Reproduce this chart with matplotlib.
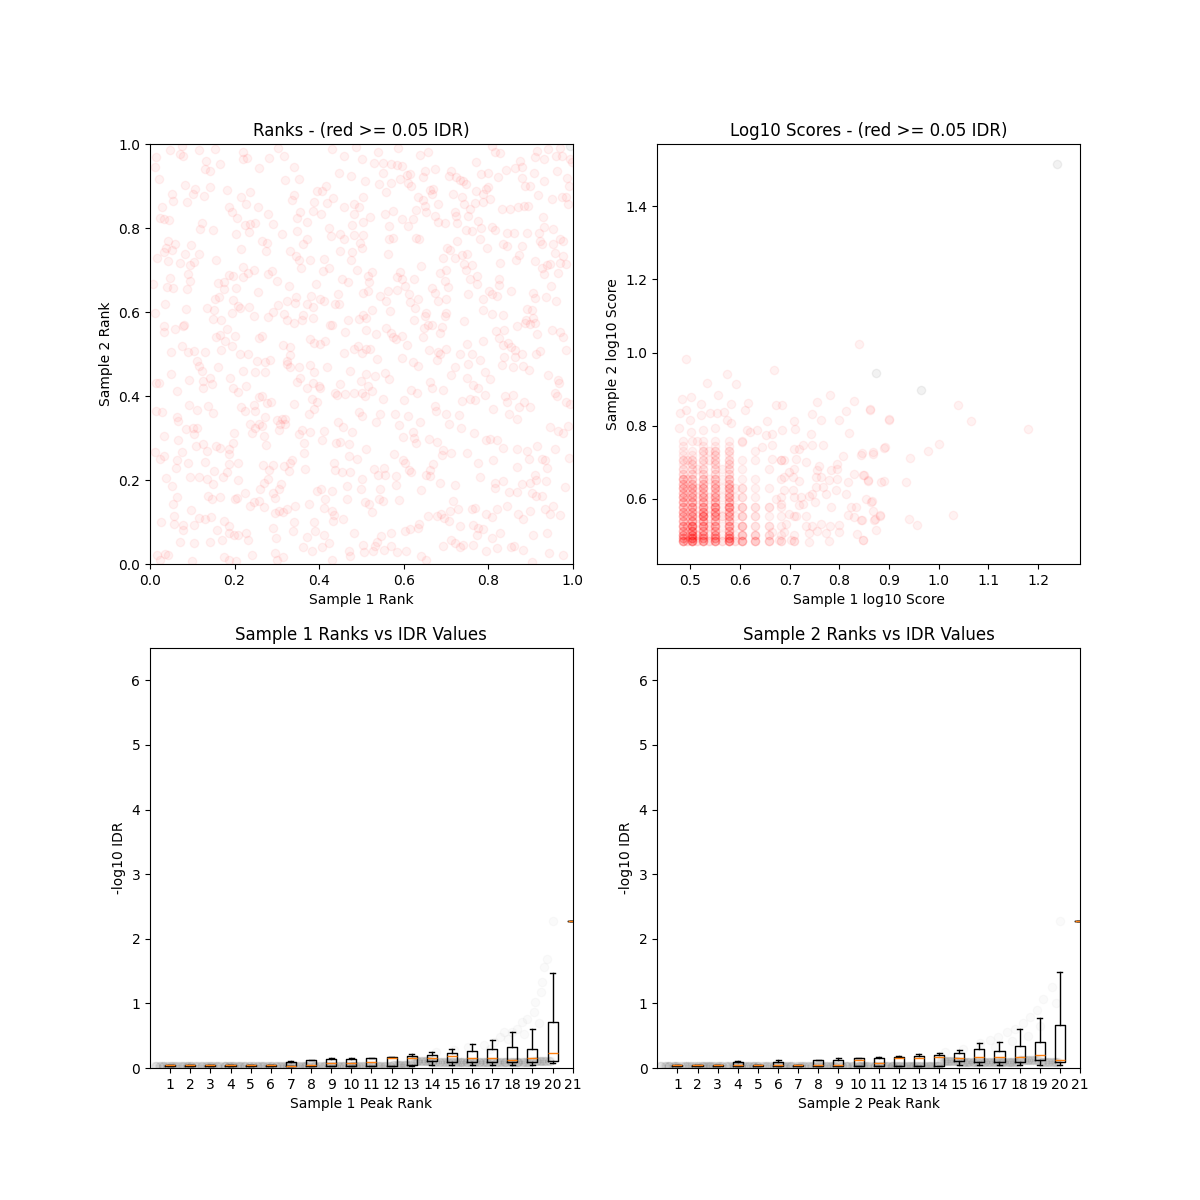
import numpy as np
import matplotlib
matplotlib.use("Agg")
import matplotlib.pyplot as plt

IDR_CUT = 0.05

## RANKS PANEL - (sample 1 rank, sample 2 rank)
ranks_upper_left = [
    (0.047, 0.986), (0.075, 0.996), (0.115, 0.986), (0.154, 0.987), (0.221, 0.981), (0.221, 0.964),
    (0.229, 0.966), (0.070, 0.976), (0.079, 0.972), (0.014, 0.968), (0.012, 0.946), (0.133, 0.960),
    (0.130, 0.940), (0.142, 0.936), (0.166, 0.952), (0.022, 0.916), (0.083, 0.903), (0.107, 0.894),
    (0.101, 0.882), (0.128, 0.877), (0.141, 0.897), (0.182, 0.891), (0.051, 0.881), (0.055, 0.865),
    (0.088, 0.862), (0.215, 0.875), (0.237, 0.886), (0.227, 0.857), (0.255, 0.851), (0.028, 0.850),
    (0.024, 0.823), (0.033, 0.821), (0.045, 0.819), (0.188, 0.849), (0.194, 0.837), (0.205, 0.825),
    (0.122, 0.811), (0.119, 0.797), (0.148, 0.796), (0.203, 0.785), (0.224, 0.806), (0.235, 0.791),
    (0.237, 0.809), (0.249, 0.811), (0.280, 0.833), (0.290, 0.809), (0.312, 0.785), (0.258, 0.944),
    (0.282, 0.966), (0.316, 0.971), (0.302, 0.990), (0.340, 0.946), (0.320, 0.914), (0.353, 0.916),
    (0.341, 0.878), (0.336, 0.866), (0.356, 0.838), (0.348, 0.825), (0.371, 0.815), (0.387, 0.861),
    (0.395, 0.887), (0.407, 0.889), (0.417, 0.900), (0.433, 0.871), (0.419, 0.859), (0.386, 0.841),
    (0.404, 0.834), (0.448, 0.931), (0.476, 0.923), (0.502, 0.964), (0.460, 0.971), (0.430, 0.988),
    (0.488, 0.992), (0.458, 0.851), (0.482, 0.857), (0.483, 0.833), (0.494, 0.849), (0.503, 0.873),
    (0.503, 0.815), (0.478, 0.807), (0.423, 0.801), (0.427, 0.781), (0.450, 0.785), (0.458, 0.773),
    (0.483, 0.783), (0.496, 0.765), (0.502, 0.753), (0.450, 0.745), (0.479, 0.744), (0.476, 0.725),
    (0.411, 0.727), (0.409, 0.698), (0.423, 0.704), (0.490, 0.699), (0.454, 0.679), (0.469, 0.672),
    (0.503, 0.646), (0.445, 0.643), (0.446, 0.620), (0.438, 0.618), (0.411, 0.626), (0.401, 0.630),
    (0.381, 0.638), (0.371, 0.620), (0.386, 0.612), (0.344, 0.622), (0.346, 0.635), (0.325, 0.626),
    (0.328, 0.662), (0.393, 0.667), (0.379, 0.723), (0.357, 0.705), (0.352, 0.725), (0.345, 0.733),
    (0.330, 0.745), (0.371, 0.774), (0.363, 0.761), (0.348, 0.792), (0.266, 0.769), (0.277, 0.764),
    (0.275, 0.745), (0.216, 0.751), (0.156, 0.725), (0.097, 0.760), (0.115, 0.739), (0.083, 0.737),
    (0.071, 0.716), (0.105, 0.720), (0.095, 0.712), (0.091, 0.690), (0.095, 0.675), (0.088, 0.654),
    (0.047, 0.680), (0.041, 0.659), (0.054, 0.656), (0.043, 0.768), (0.037, 0.753), (0.059, 0.761),
    (0.052, 0.747), (0.032, 0.744), (0.017, 0.729), (0.043, 0.721), (0.006, 0.666), (0.036, 0.618),
    (0.012, 0.598), (0.085, 0.608), (0.136, 0.610), (0.154, 0.631), (0.164, 0.635), (0.196, 0.628),
    (0.209, 0.614), (0.234, 0.613), (0.213, 0.610), (0.152, 0.604), (0.150, 0.584), (0.167, 0.582),
    (0.183, 0.560), (0.166, 0.545), (0.156, 0.540), (0.178, 0.530), (0.194, 0.518), (0.201, 0.542),
    (0.265, 0.542), (0.259, 0.538), (0.245, 0.590), (0.278, 0.588), (0.291, 0.600), (0.302, 0.616),
    (0.318, 0.596), (0.324, 0.582), (0.359, 0.582), (0.363, 0.592), (0.340, 0.573), (0.386, 0.586),
    (0.430, 0.568), (0.425, 0.570), (0.468, 0.580), (0.494, 0.584), (0.462, 0.553), (0.503, 0.592),
    (0.379, 0.535), (0.387, 0.526), (0.415, 0.532), (0.403, 0.524), (0.458, 0.502), (0.483, 0.513),
    (0.491, 0.518), (0.502, 0.503), (0.314, 0.521), (0.332, 0.517), (0.332, 0.497), (0.075, 0.518),
    (0.049, 0.505), (0.091, 0.505), (0.103, 0.508), (0.130, 0.504), (0.167, 0.509), (0.213, 0.501),
    (0.233, 0.500), (0.032, 0.566), (0.032, 0.552), (0.059, 0.560), (0.079, 0.566), (0.081, 0.570),
    (0.162, 0.670), (0.175, 0.672), (0.174, 0.654), (0.187, 0.687), (0.197, 0.686), (0.220, 0.706),
    (0.219, 0.683), (0.231, 0.694), (0.246, 0.699), (0.280, 0.691), (0.288, 0.698), (0.300, 0.674),
    (0.204, 0.656), (0.255, 0.648), (0.195, 0.598),
]

ranks_upper_right = [
    (0.539, 0.980), (0.587, 0.990), (0.658, 0.982), (0.638, 0.974), (0.808, 0.996), (0.816, 0.980),
    (0.829, 0.979), (0.915, 0.984), (0.942, 0.988), (0.970, 0.990), (0.529, 0.955), (0.550, 0.955),
    (0.569, 0.952), (0.584, 0.951), (0.595, 0.948), (0.551, 0.932), (0.508, 0.911), (0.542, 0.904),
    (0.571, 0.906), (0.591, 0.916), (0.607, 0.927), (0.616, 0.928), (0.645, 0.922), (0.650, 0.936),
    (0.674, 0.940), (0.611, 0.908), (0.618, 0.900), (0.559, 0.885), (0.634, 0.875), (0.646, 0.866),
    (0.662, 0.890), (0.670, 0.893), (0.666, 0.881), (0.682, 0.857), (0.650, 0.853), (0.654, 0.837),
    (0.713, 0.936), (0.708, 0.924), (0.725, 0.922), (0.733, 0.914), (0.741, 0.911), (0.747, 0.904),
    (0.717, 0.882), (0.737, 0.873), (0.771, 0.956), (0.782, 0.928), (0.800, 0.932), (0.824, 0.922),
    (0.841, 0.938), (0.863, 0.943), (0.875, 0.959), (0.879, 0.946), (0.911, 0.968), (0.931, 0.964),
    (0.961, 0.972), (0.974, 0.972), (0.994, 0.964), (0.998, 0.956), (0.962, 0.936), (0.908, 0.932),
    (0.879, 0.920), (0.887, 0.900), (0.900, 0.900), (0.932, 0.912), (0.986, 0.920), (0.992, 0.900),
    (0.800, 0.898), (0.795, 0.893), (0.771, 0.889), (0.788, 0.881), (0.787, 0.862), (0.804, 0.869),
    (0.769, 0.859), (0.757, 0.846), (0.742, 0.857), (0.832, 0.845), (0.852, 0.845), (0.871, 0.849),
    (0.885, 0.853), (0.895, 0.853), (0.919, 0.879), (0.950, 0.869), (0.974, 0.873), (0.983, 0.874),
    (0.990, 0.858), (0.521, 0.826), (0.555, 0.833), (0.575, 0.841), (0.597, 0.821), (0.611, 0.805),
    (0.622, 0.821), (0.566, 0.805), (0.630, 0.842), (0.675, 0.829), (0.682, 0.815), (0.697, 0.813),
    (0.721, 0.837), (0.725, 0.829), (0.727, 0.813), (0.753, 0.829), (0.776, 0.817), (0.784, 0.799),
    (0.747, 0.795), (0.761, 0.793), (0.808, 0.803), (0.816, 0.795), (0.929, 0.826), (0.931, 0.803),
    (0.953, 0.797), (0.893, 0.789), (0.920, 0.787), (0.923, 0.769), (0.927, 0.761), (0.844, 0.789),
    (0.861, 0.787), (0.505, 0.783), (0.566, 0.775), (0.575, 0.777), (0.630, 0.777), (0.637, 0.775),
    (0.727, 0.768), (0.780, 0.773), (0.798, 0.752), (0.836, 0.763), (0.844, 0.757), (0.881, 0.757),
    (0.874, 0.736), (0.865, 0.725), (0.953, 0.761), (0.970, 0.773), (0.978, 0.769), (0.958, 0.741),
    (0.978, 0.733), (0.911, 0.721), (0.938, 0.713), (0.946, 0.715), (0.970, 0.717), (0.984, 0.715),
    (0.927, 0.704), (0.933, 0.690), (0.966, 0.694), (0.562, 0.739), (0.642, 0.709), (0.692, 0.729),
    (0.703, 0.752), (0.709, 0.747), (0.721, 0.729), (0.737, 0.735), (0.750, 0.737), (0.743, 0.715),
    (0.762, 0.712), (0.747, 0.701), (0.828, 0.717), (0.516, 0.686), (0.526, 0.696), (0.518, 0.672),
    (0.592, 0.695), (0.597, 0.678), (0.584, 0.683), (0.624, 0.678), (0.603, 0.662), (0.613, 0.643),
    (0.516, 0.650), (0.545, 0.638), (0.563, 0.651), (0.584, 0.652), (0.559, 0.626), (0.615, 0.624),
    (0.634, 0.632), (0.626, 0.610), (0.567, 0.602), (0.524, 0.604), (0.512, 0.586), (0.686, 0.694),
    (0.701, 0.701), (0.697, 0.674), (0.705, 0.659), (0.666, 0.656), (0.674, 0.646), (0.682, 0.626),
    (0.701, 0.630), (0.757, 0.678), (0.773, 0.686), (0.773, 0.667), (0.753, 0.642), (0.803, 0.650),
    (0.826, 0.678), (0.826, 0.664), (0.810, 0.643), (0.820, 0.638), (0.787, 0.632), (0.853, 0.650),
    (0.907, 0.646), (0.911, 0.634), (0.937, 0.635), (0.961, 0.627), (0.949, 0.662), (0.891, 0.606),
    (0.903, 0.604), (0.788, 0.604), (0.808, 0.596), (0.836, 0.594), (0.889, 0.582), (0.907, 0.586),
    (0.887, 0.574), (0.867, 0.566), (0.899, 0.572), (0.911, 0.574), (0.701, 0.598), (0.697, 0.590),
    (0.654, 0.598), (0.650, 0.590), (0.658, 0.570), (0.666, 0.569), (0.648, 0.561), (0.624, 0.582),
    (0.742, 0.578), (0.558, 0.562), (0.512, 0.558), (0.534, 0.548), (0.571, 0.550), (0.575, 0.540),
    (0.595, 0.542), (0.581, 0.536), (0.646, 0.540), (0.686, 0.550), (0.690, 0.564), (0.607, 0.522),
    (0.512, 0.512), (0.520, 0.513), (0.660, 0.510), (0.682, 0.504), (0.700, 0.513), (0.686, 0.499),
    (0.733, 0.500), (0.761, 0.499), (0.751, 0.524), (0.788, 0.530), (0.818, 0.554), (0.837, 0.556),
    (0.826, 0.538), (0.834, 0.522), (0.848, 0.526), (0.853, 0.516), (0.863, 0.510), (0.879, 0.500),
    (0.913, 0.499), (0.923, 0.506), (0.950, 0.558), (0.970, 0.552), (0.978, 0.540), (0.916, 0.548),
    (0.984, 0.509),
]

ranks_lower_left = [
    (0.049, 0.452), (0.014, 0.432), (0.022, 0.431), (0.065, 0.412), (0.093, 0.439), (0.112, 0.484),
    (0.117, 0.472), (0.122, 0.460), (0.126, 0.436), (0.125, 0.418), (0.142, 0.444), (0.146, 0.428),
    (0.162, 0.468), (0.190, 0.442), (0.196, 0.418), (0.207, 0.410), (0.221, 0.460), (0.227, 0.424),
    (0.249, 0.458), (0.253, 0.484), (0.273, 0.482), (0.284, 0.486), (0.273, 0.458), (0.324, 0.484),
    (0.325, 0.476), (0.332, 0.468), (0.352, 0.468), (0.354, 0.442), (0.348, 0.434), (0.378, 0.474),
    (0.389, 0.458), (0.371, 0.420), (0.386, 0.431), (0.399, 0.424), (0.419, 0.468), (0.438, 0.407),
    (0.450, 0.428), (0.462, 0.405), (0.472, 0.460), (0.482, 0.407), (0.498, 0.436), (0.502, 0.407),
    (0.014, 0.365), (0.028, 0.361), (0.063, 0.349), (0.067, 0.341), (0.093, 0.378), (0.111, 0.367),
    (0.138, 0.377), (0.150, 0.359), (0.085, 0.321), (0.101, 0.325), (0.111, 0.323), (0.103, 0.309),
    (0.033, 0.305), (0.067, 0.295), (0.012, 0.267), (0.024, 0.251), (0.032, 0.257), (0.063, 0.248),
    (0.075, 0.267), (0.062, 0.229), (0.109, 0.280), (0.126, 0.285), (0.136, 0.269), (0.156, 0.281),
    (0.166, 0.277), (0.196, 0.289), (0.198, 0.311), (0.187, 0.261), (0.186, 0.237), (0.209, 0.241),
    (0.129, 0.243), (0.152, 0.221), (0.117, 0.208), (0.134, 0.202), (0.149, 0.190), (0.172, 0.208),
    (0.183, 0.219), (0.038, 0.205), (0.051, 0.186), (0.065, 0.160), (0.054, 0.142), (0.096, 0.128),
    (0.025, 0.100), (0.057, 0.114), (0.057, 0.096), (0.077, 0.094), (0.079, 0.081), (0.103, 0.092),
    (0.117, 0.110), (0.130, 0.106), (0.144, 0.111), (0.175, 0.102), (0.188, 0.090), (0.186, 0.074),
    (0.198, 0.070), (0.209, 0.070), (0.228, 0.074), (0.233, 0.058), (0.170, 0.058), (0.158, 0.082),
    (0.141, 0.052), (0.103, 0.049), (0.070, 0.053), (0.016, 0.022), (0.036, 0.025), (0.043, 0.022),
    (0.024, 0.009), (0.099, 0.007), (0.175, 0.017), (0.186, 0.010), (0.204, 0.007), (0.241, 0.022),
    (0.296, 0.026), (0.300, 0.010), (0.314, 0.016), (0.361, 0.040), (0.383, 0.030), (0.431, 0.010),
    (0.470, 0.030), (0.474, 0.018), (0.506, 0.029), (0.483, 0.073), (0.457, 0.108), (0.435, 0.116),
    (0.433, 0.102), (0.411, 0.070), (0.423, 0.050), (0.407, 0.041), (0.391, 0.078), (0.387, 0.100),
    (0.371, 0.064), (0.338, 0.078), (0.340, 0.100), (0.299, 0.062), (0.291, 0.086), (0.314, 0.124),
    (0.324, 0.130), (0.304, 0.126), (0.296, 0.122), (0.344, 0.138), (0.375, 0.144), (0.395, 0.174),
    (0.404, 0.179), (0.415, 0.154), (0.411, 0.134), (0.431, 0.174), (0.431, 0.126), (0.466, 0.186),
    (0.466, 0.155), (0.498, 0.178), (0.502, 0.202), (0.474, 0.219), (0.454, 0.219), (0.438, 0.224),
    (0.435, 0.240), (0.490, 0.251), (0.470, 0.257), (0.510, 0.273), (0.449, 0.291), (0.470, 0.285),
    (0.441, 0.289), (0.407, 0.295), (0.478, 0.315), (0.457, 0.327), (0.445, 0.337), (0.502, 0.353),
    (0.494, 0.361), (0.378, 0.315), (0.365, 0.289), (0.359, 0.319), (0.352, 0.309), (0.365, 0.264),
    (0.367, 0.227), (0.332, 0.241), (0.336, 0.248), (0.328, 0.221), (0.316, 0.233), (0.292, 0.235),
    (0.282, 0.224), (0.267, 0.235), (0.280, 0.203), (0.261, 0.179), (0.269, 0.194), (0.310, 0.190),
    (0.304, 0.178), (0.292, 0.170), (0.296, 0.158), (0.246, 0.147), (0.237, 0.139), (0.257, 0.150),
    (0.270, 0.136), (0.224, 0.170), (0.201, 0.154), (0.205, 0.158), (0.166, 0.160), (0.146, 0.154),
    (0.138, 0.162), (0.241, 0.313), (0.249, 0.325), (0.257, 0.333), (0.265, 0.329), (0.273, 0.349),
    (0.245, 0.378), (0.257, 0.397), (0.265, 0.399), (0.277, 0.383), (0.286, 0.385), (0.249, 0.365),
    (0.215, 0.375), (0.224, 0.365), (0.237, 0.333), (0.269, 0.305), (0.275, 0.283), (0.304, 0.319),
    (0.308, 0.333), (0.312, 0.346), (0.320, 0.346), (0.300, 0.343), (0.320, 0.333), (0.403, 0.418),
    (0.442, 0.402), (0.411, 0.317), (0.340, 0.381), (0.375, 0.358), (0.387, 0.369), (0.395, 0.385),
    (0.383, 0.393), (0.091, 0.241), (0.095, 0.208), (0.209, 0.199), (0.186, 0.273),
]

ranks_lower_right = [
    (0.537, 0.488), (0.597, 0.490), (0.622, 0.480), (0.634, 0.471), (0.679, 0.486), (0.721, 0.468),
    (0.713, 0.450), (0.749, 0.442), (0.753, 0.476), (0.780, 0.486), (0.792, 0.456), (0.804, 0.440),
    (0.837, 0.492), (0.863, 0.492), (0.832, 0.474), (0.858, 0.468), (0.883, 0.471), (0.897, 0.463),
    (0.942, 0.450), (0.966, 0.439), (0.968, 0.431), (0.512, 0.452), (0.532, 0.448), (0.555, 0.455),
    (0.566, 0.440), (0.516, 0.423), (0.526, 0.412), (0.508, 0.399), (0.551, 0.394), (0.600, 0.391),
    (0.618, 0.415), (0.632, 0.408), (0.662, 0.434), (0.666, 0.418), (0.694, 0.415), (0.765, 0.426),
    (0.776, 0.418), (0.792, 0.402), (0.739, 0.389), (0.757, 0.394), (0.769, 0.391), (0.812, 0.370),
    (0.840, 0.399), (0.859, 0.402), (0.845, 0.385), (0.850, 0.357), (0.867, 0.346), (0.874, 0.373),
    (0.885, 0.386), (0.899, 0.375), (0.958, 0.408), (0.962, 0.401), (0.984, 0.386), (0.994, 0.381),
    (0.545, 0.358), (0.534, 0.338), (0.579, 0.357), (0.589, 0.331), (0.611, 0.353), (0.638, 0.337),
    (0.674, 0.377), (0.676, 0.365), (0.700, 0.357), (0.708, 0.333), (0.731, 0.354), (0.735, 0.325),
    (0.766, 0.313), (0.796, 0.295), (0.804, 0.297), (0.821, 0.295), (0.834, 0.277), (0.867, 0.273),
    (0.891, 0.269), (0.897, 0.249), (0.915, 0.280), (0.927, 0.251), (0.934, 0.248), (0.958, 0.273),
    (0.946, 0.327), (0.966, 0.317), (0.978, 0.311), (0.990, 0.329), (0.992, 0.253), (0.599, 0.303),
    (0.621, 0.315), (0.624, 0.301), (0.629, 0.289), (0.660, 0.297), (0.678, 0.291), (0.694, 0.272),
    (0.690, 0.259), (0.711, 0.265), (0.749, 0.264), (0.776, 0.240), (0.812, 0.248), (0.577, 0.263),
    (0.599, 0.248), (0.603, 0.240), (0.613, 0.225), (0.618, 0.219), (0.670, 0.237), (0.662, 0.225),
    (0.654, 0.213), (0.663, 0.209), (0.686, 0.192), (0.721, 0.187), (0.642, 0.176), (0.529, 0.227),
    (0.553, 0.229), (0.539, 0.213), (0.555, 0.213), (0.581, 0.209), (0.581, 0.187), (0.545, 0.178),
    (0.542, 0.155), (0.550, 0.150), (0.508, 0.147), (0.518, 0.144), (0.524, 0.124), (0.589, 0.152),
    (0.780, 0.206), (0.816, 0.194), (0.816, 0.182), (0.834, 0.198), (0.850, 0.171), (0.869, 0.171),
    (0.881, 0.190), (0.899, 0.194), (0.913, 0.200), (0.936, 0.198), (0.903, 0.170), (0.913, 0.162),
    (0.927, 0.163), (0.911, 0.213), (0.940, 0.229), (0.869, 0.232), (0.982, 0.184), (0.717, 0.150),
    (0.729, 0.131), (0.709, 0.126), (0.688, 0.118), (0.679, 0.114), (0.695, 0.110), (0.708, 0.102),
    (0.658, 0.114), (0.733, 0.090), (0.761, 0.131), (0.769, 0.134), (0.795, 0.118), (0.810, 0.112),
    (0.820, 0.131), (0.845, 0.139), (0.871, 0.120), (0.882, 0.106), (0.899, 0.126), (0.934, 0.130),
    (0.946, 0.118), (0.954, 0.139), (0.970, 0.116), (0.765, 0.094), (0.776, 0.086), (0.788, 0.084),
    (0.774, 0.070), (0.808, 0.062), (0.829, 0.073), (0.637, 0.096), (0.634, 0.086), (0.615, 0.084),
    (0.603, 0.078), (0.569, 0.074), (0.547, 0.066), (0.536, 0.052), (0.532, 0.042), (0.504, 0.046),
    (0.528, 0.030), (0.553, 0.034), (0.571, 0.044), (0.584, 0.028), (0.605, 0.030), (0.642, 0.020),
    (0.654, 0.009), (0.692, 0.044), (0.713, 0.058), (0.721, 0.050), (0.733, 0.041), (0.741, 0.046),
    (0.765, 0.046), (0.795, 0.030), (0.820, 0.038), (0.855, 0.041), (0.861, 0.044), (0.882, 0.034),
    (0.905, 0.068), (0.938, 0.073), (0.945, 0.026), (0.976, 0.022), (0.903, 0.004),
]

ranks_sig = [(0.994, 0.995)]          # the one peak below the IDR cut (grey)

## LOG10 SCORES PANEL
# the bulk sits on discrete scores; left block is packed, right block is sparser
left_cols = [0.485, 0.503, 0.525, 0.550, 0.578]
left_rows = [0.486, 0.494, 0.501, 0.513, 0.526, 0.539, 0.552, 0.565, 0.579, 0.592, 0.605, 0.617,
             0.630, 0.642, 0.655, 0.668, 0.681, 0.694, 0.707, 0.720, 0.732, 0.745, 0.757]
left_counts = [
    [6, 8, 6, 6, 7], [4, 6, 4, 4, 5], [5, 7, 5, 5, 5], [4, 6, 4, 4, 4], [5, 8, 6, 5, 5],
    [4, 5, 5, 4, 4], [4, 5, 7, 5, 4], [4, 4, 5, 5, 4], [4, 5, 5, 6, 6], [4, 4, 4, 4, 4],
    [4, 4, 4, 4, 4], [3, 3, 3, 3, 3], [4, 4, 4, 4, 4], [3, 3, 3, 3, 3], [4, 3, 3, 3, 3],
    [2, 2, 2, 2, 2], [2, 2, 2, 2, 2], [1, 2, 1, 2, 2], [2, 2, 2, 2, 2], [1, 1, 1, 2, 1],
    [1, 1, 2, 2, 2], [1, 0, 1, 1, 1], [1, 1, 1, 1, 1],
]
# scores that fall between the main columns
mid_cols = [0.494, 0.514, 0.537, 0.564, 0.591]
mid_rows = [0.486, 0.501, 0.526, 0.552, 0.579, 0.605, 0.630, 0.655, 0.681, 0.707, 0.732, 0.757]
mid_counts = [
    [2, 2, 2, 2, 2], [1, 2, 1, 1, 1], [2, 1, 2, 1, 1], [1, 1, 1, 2, 1],
    [1, 1, 1, 1, 1], [1, 1, 1, 1, 1], [1, 1, 0, 1, 1], [1, 0, 1, 1, 0],
    [0, 1, 0, 1, 0], [1, 0, 1, 0, 0], [0, 0, 1, 0, 0], [0, 1, 0, 0, 0],
]
right_cols = [0.605, 0.630, 0.658, 0.683, 0.709]
right_rows = [0.486, 0.501, 0.526, 0.552, 0.579, 0.605, 0.630, 0.655, 0.681, 0.707, 0.732, 0.757]
right_counts = [
    [5, 4, 3, 2, 2], [4, 3, 2, 1, 1], [4, 2, 2, 1, 0], [3, 2, 1, 1, 1],
    [3, 2, 2, 1, 0], [2, 1, 0, 1, 1], [2, 1, 1, 0, 0], [1, 1, 0, 1, 0],
    [1, 0, 1, 0, 1], [1, 1, 0, 1, 0], [0, 1, 0, 0, 0], [1, 0, 0, 0, 0],
]
# scattered peaks outside the dense block
score_sparse = [
    (0.491, 0.982), (0.534, 0.917), (0.592, 0.915), (0.574, 0.942), (0.669, 0.952), (0.839, 1.022),
    (0.484, 0.872), (0.502, 0.879), (0.555, 0.883), (0.522, 0.858), (0.480, 0.835), (0.491, 0.844),
    (0.500, 0.815), (0.522, 0.828), (0.540, 0.835), (0.554, 0.835), (0.568, 0.837), (0.583, 0.858),
    (0.574, 0.816), (0.582, 0.807), (0.611, 0.842), (0.617, 0.862), (0.672, 0.856), (0.684, 0.856),
    (0.655, 0.813), (0.664, 0.776), (0.709, 0.813), (0.711, 0.792), (0.745, 0.831), (0.755, 0.865),
    (0.763, 0.816), (0.781, 0.885), (0.799, 0.816), (0.814, 0.840), (0.829, 0.868), (0.861, 0.842),
    (0.900, 0.816), (0.478, 0.795), (0.502, 0.783), (0.526, 0.787), (0.549, 0.795), (0.743, 0.778),
    (0.819, 0.780), (0.807, 0.716), (0.795, 0.696), (0.844, 0.721), (0.868, 0.723), (0.889, 0.740),
    (0.830, 0.667), (0.850, 0.664), (0.857, 0.650), (0.884, 0.646), (0.817, 0.646), (0.814, 0.614),
    (0.854, 0.600), (0.864, 0.591), (0.868, 0.566), (0.881, 0.554), (0.870, 0.541), (0.844, 0.542),
    (0.834, 0.577), (0.817, 0.557), (0.830, 0.550), (0.824, 0.577), (0.847, 0.488), (0.835, 0.504),
    (0.799, 0.529), (0.799, 0.509), (0.781, 0.527), (0.780, 0.484), (0.773, 0.507), (0.763, 0.532),
    (0.756, 0.513), (0.746, 0.527), (0.739, 0.507), (0.739, 0.481), (0.732, 0.527), (0.723, 0.605),
    (0.727, 0.586), (0.739, 0.609), (0.752, 0.591), (0.732, 0.554), (0.712, 0.554), (0.719, 0.584),
    (0.756, 0.678), (0.760, 0.691), (0.763, 0.659), (0.780, 0.652), (0.783, 0.678), (0.795, 0.682),
    (0.795, 0.655), (0.794, 0.623), (0.773, 0.614), (0.783, 0.577), (0.753, 0.659), (0.733, 0.700),
    (0.712, 0.710), (0.719, 0.737), (0.727, 0.746), (0.746, 0.746), (0.768, 0.746), (0.768, 0.632),
    (0.753, 0.632), (0.746, 0.614), (0.706, 0.659), (0.699, 0.673), (0.689, 0.659), (0.719, 0.650),
    (0.706, 0.623), (0.689, 0.625), (0.699, 0.559), (0.692, 0.532), (0.702, 0.488), (0.679, 0.488),
    (0.689, 0.509), (0.665, 0.509), (0.682, 0.586), (0.672, 0.600), (0.689, 0.705), (0.682, 0.705),
    (0.665, 0.710), (0.709, 0.737), (0.685, 0.787), (0.665, 0.746), (0.652, 0.774), (0.645, 0.742),
    (0.635, 0.787), (0.621, 0.784), (0.615, 0.787), (0.605, 0.755),
    (0.861, 0.846), (0.901, 0.818), (1.039, 0.857), (1.066, 0.814), (1.180, 0.792), (0.846, 0.725),
    (0.868, 0.727), (0.891, 0.742), (0.942, 0.713), (0.979, 0.730), (1.001, 0.750), (0.848, 0.666),
    (0.858, 0.652), (0.889, 0.648), (0.934, 0.645), (0.866, 0.595), (0.871, 0.544), (0.881, 0.556),
    (0.845, 0.541), (0.873, 0.515), (0.848, 0.488), (0.940, 0.545), (0.956, 0.529), (1.028, 0.556),
]
scores_sig = [(0.8745, 0.944), (0.9638, 0.897), (1.238, 1.514)]

## RANK BINS vs -log10 IDR (box statistics, bins 1..21)
s1_med = [0.04, 0.04, 0.04, 0.04, 0.04, 0.04, 0.036, 0.04, 0.07, 0.07, 0.10, 0.15, 0.16, 0.15, 0.18, 0.15, 0.15, 0.13, 0.15, 0.226, 2.28]
s1_q1 = [0.035, 0.035, 0.035, 0.035, 0.035, 0.035, 0.036, 0.036, 0.036, 0.036, 0.036, 0.036, 0.04, 0.11, 0.10, 0.10, 0.10, 0.10, 0.09, 0.107, 2.28]
s1_q3 = [0.045, 0.045, 0.045, 0.045, 0.045, 0.045, 0.10, 0.12, 0.14, 0.14, 0.15, 0.17, 0.18, 0.195, 0.235, 0.27, 0.29, 0.33, 0.30, 0.71, 2.28]
s1_lo = [0.03, 0.03, 0.03, 0.03, 0.03, 0.03, 0.03, 0.03, 0.03, 0.03, 0.03, 0.03, 0.035, 0.04, 0.04, 0.04, 0.046, 0.046, 0.046, 0.08, 2.28]
s1_hi = [0.05, 0.05, 0.05, 0.05, 0.05, 0.05, 0.11, 0.125, 0.15, 0.15, 0.16, 0.175, 0.215, 0.24, 0.29, 0.37, 0.44, 0.56, 0.61, 1.47, 2.28]

s2_med = [0.04, 0.04, 0.04, 0.04, 0.04, 0.04, 0.04, 0.04, 0.04, 0.12, 0.07, 0.155, 0.155, 0.175, 0.15, 0.165, 0.17, 0.17, 0.20, 0.12, 2.28]
s2_q1 = [0.035, 0.035, 0.035, 0.036, 0.035, 0.036, 0.035, 0.036, 0.036, 0.036, 0.036, 0.036, 0.036, 0.036, 0.11, 0.10, 0.10, 0.10, 0.12, 0.09, 2.28]
s2_q3 = [0.045, 0.045, 0.045, 0.10, 0.045, 0.09, 0.045, 0.12, 0.12, 0.16, 0.155, 0.17, 0.19, 0.195, 0.225, 0.29, 0.26, 0.34, 0.395, 0.67, 2.28]
s2_lo = [0.03, 0.03, 0.03, 0.03, 0.03, 0.03, 0.03, 0.03, 0.03, 0.03, 0.03, 0.03, 0.03, 0.03, 0.04, 0.04, 0.04, 0.04, 0.04, 0.05, 2.28]
s2_hi = [0.05, 0.05, 0.05, 0.11, 0.05, 0.12, 0.05, 0.13, 0.15, 0.16, 0.165, 0.18, 0.22, 0.23, 0.28, 0.38, 0.41, 0.60, 0.77, 1.48, 2.28]

# faint peaks above the grey band, (20 * rank, -log10 IDR)
s1_tail = [(14.20, 0.25), (15.10, 0.28), (15.80, 0.32), (16.58, 0.35), (16.90, 0.30), (17.08, 0.40),
           (17.41, 0.48), (17.58, 0.56), (17.80, 0.45), (18.00, 0.56), (18.25, 0.61), (18.49, 0.71),
           (18.60, 0.52), (18.74, 0.76), (19.07, 0.87), (19.15, 1.02), (19.30, 0.70), (19.40, 1.17),
           (19.49, 1.33), (19.57, 1.56), (19.74, 1.69), (20.00, 2.28)]
s2_tail = [(14.30, 0.24), (15.20, 0.29), (16.03, 0.38), (16.53, 0.43), (16.80, 0.33), (16.94, 0.48),
           (17.36, 0.56), (17.60, 0.42), (17.77, 0.61), (18.18, 0.69), (18.40, 0.50), (18.51, 0.79),
           (18.84, 0.89), (19.00, 0.65), (19.18, 1.07), (19.59, 1.25), (19.80, 1.00), (20.00, 2.28)]


ranks_ns = np.array(ranks_upper_left + ranks_upper_right + ranks_lower_left + ranks_lower_right)
ranks_s = np.array(ranks_sig)

score_x, score_y = [], []
for cols, rows, counts in [(left_cols, left_rows, left_counts), (mid_cols, mid_rows, mid_counts),
                           (right_cols, right_rows, right_counts)]:
    for i, row in enumerate(counts):
        for j, n in enumerate(row):
            score_x += [cols[j]] * n
            score_y += [rows[i]] * n
score_x += [p[0] for p in score_sparse]
score_y += [p[1] for p in score_sparse]
scores_s = np.array(scores_sig)

fig = plt.figure(figsize=(12, 12), dpi=100)

#ranks
ax = plt.subplot(221)
ax.scatter(ranks_ns[:, 0], ranks_ns[:, 1], c='r', edgecolor='r', alpha=0.05)
ax.scatter(ranks_s[:, 0], ranks_s[:, 1], c='k', edgecolor='k', alpha=0.05)
ax.axis([0, 1, 0, 1])
ax.set_xlabel("Sample 1 Rank")
ax.set_ylabel("Sample 2 Rank")
ax.set_title("Ranks - (red >= %.2f IDR)" % IDR_CUT)

#scores
ax = plt.subplot(222)
ax.scatter(score_x, score_y, c='r', edgecolor='r', alpha=0.05)
ax.scatter(scores_s[:, 0], scores_s[:, 1], c='k', edgecolor='k', alpha=0.05)
ax.set_xlim(0.4336, 1.2845)
ax.set_ylim(0.422, 1.570)
ax.set_xlabel("Sample 1 log10 Score")
ax.set_ylabel("Sample 2 log10 Score")
ax.set_title("Log10 Scores - (red >= %.2f IDR)" % IDR_CUT)


def boxes(ax, sample_i, rank, med, q1, q3, lo, hi, tail):
    stats = [dict(med=med[k], q1=q1[k], q3=q3[k], whislo=lo[k], whishi=hi[k], label=str(k + 1))
             for k in range(len(med))]
    ax.bxp(stats, positions=range(1, len(med) + 1), showfliers=False)

    # grey peaks: the band at the bottom sits at each bin's lower quartile
    bins = np.minimum((20 * rank).astype(int), 19)
    ax.scatter(20 * rank, np.array(q1)[bins], alpha=0.01, c='black')
    tail = np.array(tail)
    ax.scatter(tail[:, 0], tail[:, 1], alpha=0.02, c='black')

    ax.axis([0, 21, 0, 6.5])
    ax.set_title("Sample %i Ranks vs IDR Values" % sample_i)
    ax.set_xlabel("Sample %i Peak Rank" % sample_i)
    ax.set_ylabel("-log10 IDR")


all_ranks = np.vstack([ranks_ns, ranks_s])
boxes(plt.subplot(223), 1, all_ranks[:, 0], s1_med, s1_q1, s1_q3, s1_lo, s1_hi, s1_tail)
boxes(plt.subplot(224), 2, all_ranks[:, 1], s2_med, s2_q1, s2_q3, s2_lo, s2_hi, s2_tail)

plt.savefig("out.png", dpi=100)
